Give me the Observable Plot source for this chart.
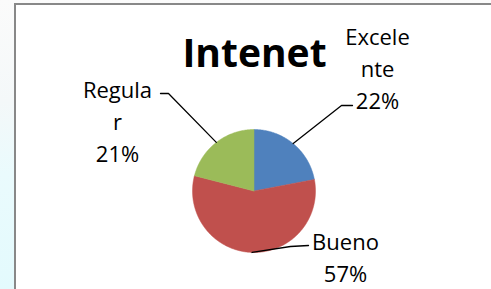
<!DOCTYPE html>
<html>
<head>
<meta charset="utf-8">
<script src="https://cdn.jsdelivr.net/npm/d3@7"></script>
<script src="https://cdn.jsdelivr.net/npm/@observablehq/plot@0.6"></script>
<style>
  html, body { margin: 0; padding: 0; }
  body {
    width: 491px; height: 289px; overflow: hidden; position: relative;
    background: linear-gradient(to bottom, #fbfbfb 0%, #f4f8f9 35%, #eafbfd 60%, #e3fafd 100%);
  }
  #frame {
    position: absolute; left: 14px; top: 3px; width: 600px; height: 400px;
    background: #ffffff; border-left: 2px solid #888888; border-top: 2px solid #888888;
  }
  #chart { position: absolute; left: 0; top: 0; }
</style>
</head>
<body>
<div id="frame"></div>
<div id="chart"></div>
<script>
// ---- data ----
const title = "Intenet";
const categories = ["Excelente", "Bueno", "Regular"];
const labelLines = ["Excele\nnte", "Bueno", "Regula\nr"];
const values = [22, 57, 21];
const colors = ["#4F81BD", "#C0504D", "#9BBB59"];

// ---- layout (pixels) ----
const W = 491, H = 289;
const cx = 253.5, cy = 190.5, r = 61.5;
const px = (x, y) => [(x - cx) / r, (cy - y) / r];
const labelPos = { Excelente: [377, 66.5], Bueno: [345, 255], Regular: [117, 119.5] };
const elbowPos = { Excelente: [[341, 105], [352, 105]], Bueno: [[290, 246], [308, 245]], Regular: [[168, 93], [160, 93]] };
const titlePos = [254, 54];

// ---- pie geometry ----
const arcs = d3.pie().sort(null).value(d => d.value)(categories.map((c, i) => ({cat: c, value: values[i]})));
const slicePts = [];
for (const a of arcs) {
  const cat = a.data.cat;
  slicePts.push({cat, x: 0, y: 0});
  const n = Math.max(2, Math.ceil((a.endAngle - a.startAngle) / 0.01));
  for (let k = 0; k <= n; k++) {
    const t = a.startAngle + (a.endAngle - a.startAngle) * k / n;
    slicePts.push({cat, x: Math.sin(t), y: Math.cos(t)});
  }
  slicePts.push({cat, x: 0, y: 0});
}
const leaderPts = [];
for (const a of arcs) {
  const cat = a.data.cat;
  const m = (a.startAngle + a.endAngle) / 2;
  leaderPts.push({cat, x: Math.sin(m), y: Math.cos(m)});
  for (const p of elbowPos[cat]) { const [x, y] = px(...p); leaderPts.push({cat, x, y}); }
}
const labels = arcs.map((a, i) => {
  const [x, y] = px(...labelPos[a.data.cat]);
  return {x, y, text: `${labelLines[i]}\n${values[i]}%`};
});
const [tx, ty] = px(...titlePos);

const plot = Plot.plot({
  width: W, height: H,
  margin: 0,
  x: {domain: [-cx / r, (W - cx) / r], axis: null},
  y: {domain: [-(H - cy) / r, cy / r], axis: null},
  color: {domain: categories, range: colors},
  style: {background: "transparent", overflow: "visible"},
  marks: [
    Plot.line(slicePts, {x: "x", y: "y", z: "cat", fill: "cat", stroke: "cat", strokeWidth: 0.5, curve: "linear"}),
    Plot.line(leaderPts, {x: "x", y: "y", z: "cat", stroke: "black", strokeWidth: 1.3}),
    Plot.text(labels, {x: "x", y: "y", text: "text", fontSize: 22, lineHeight: 1.45, lineAnchor: "middle",
      fontFamily: "'Open Sans', sans-serif", fill: "black"}),
    Plot.text([title], {x: tx, y: ty, text: d => d, fontSize: 39, fontWeight: "bold", lineAnchor: "middle",
      fontFamily: "'Open Sans', sans-serif", fill: "black"})
  ]
});
document.getElementById("chart").appendChild(plot);
</script>
</body>
</html>
